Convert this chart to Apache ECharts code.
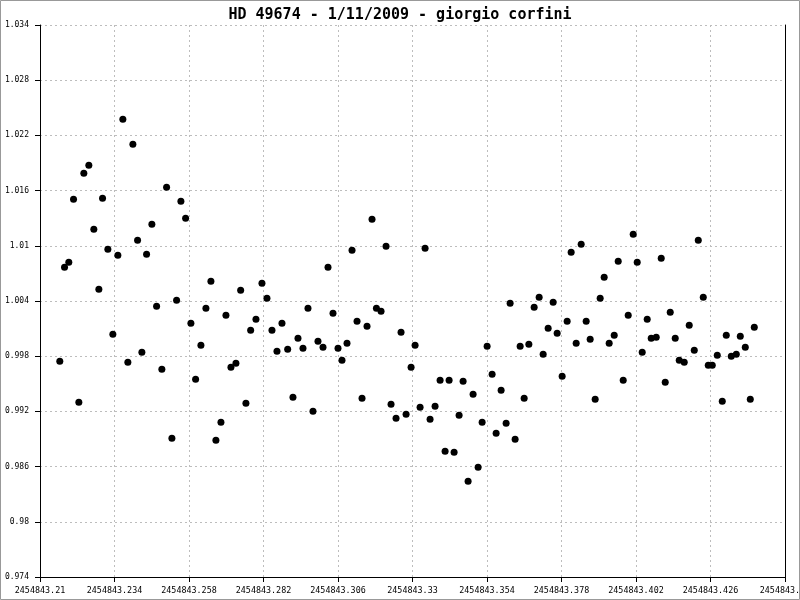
<!DOCTYPE html>
<html>
<head>
<meta charset="utf-8">
<script src="https://cdn.jsdelivr.net/npm/echarts@6/dist/echarts.min.js"></script>
<style>html,body{margin:0;padding:0;background:#fff}#c{width:800px;height:600px}</style>
</head>
<body>
<div id="c"></div>
<script>
const TITLE = 'HD 49674 - 1/11/2009 - giorgio corfini';
const JD_BASE = 2454843.21;
const FLUX_BASE = 0.974;
const xTicks = ['2454843.21','2454843.234','2454843.258','2454843.282','2454843.306','2454843.33','2454843.354','2454843.378','2454843.402','2454843.426','2454843.45'];
const yTicks = ['0.974','0.98','0.986','0.992','0.998','1.004','1.01','1.016','1.022','1.028','1.034'];
// Julian date offsets from JD_BASE (days)
const jdOffset = [
0.00638,0.00790,0.00928,0.01080,0.01251,0.01412,0.01573,0.01734,0.01896,0.02015,
0.02186,0.02347,0.02508,0.02669,0.02830,0.02992,0.03143,0.03282,0.03433,0.03604,
0.03756,0.03926,0.04078,0.04249,0.04400,0.04539,0.04691,0.04861,0.05013,0.05184,
0.05345,0.05506,0.05667,0.05829,0.05990,0.06151,0.06312,0.06464,0.06634,0.06786,
0.06957,0.07150,0.07311,0.07473,0.07634,0.07795,0.07979,0.08149,0.08311,0.08472,
0.08633,0.08794,0.08955,0.09117,0.09278,0.09439,0.09600,0.09729,0.09890,0.10052,
0.10213,0.10374,0.10535,0.10696,0.10838,0.10987,0.11148,0.11309,0.11470,0.11631,
0.11793,0.11954,0.12083,0.12244,0.12405,0.12566,0.12727,0.12889,0.13050,0.13179,
0.13340,0.13501,0.13630,0.13791,0.13952,0.14114,0.14243,0.14404,0.14565,0.14694,
0.14855,0.15016,0.15145,0.15306,0.15468,0.15597,0.15748,0.15919,0.16080,0.16209,
0.16370,0.16531,0.16660,0.16821,0.16982,0.17111,0.17273,0.17434,0.17595,0.17724,
0.17885,0.18046,0.18175,0.18336,0.18498,0.18627,0.18788,0.18949,0.19110,0.19239,
0.19400,0.19561,0.19690,0.19852,0.20013,0.20142,0.20303,0.20464,0.20593,0.20754,
0.20915,0.21077,0.21206,0.21367,0.21528,0.21657,0.21818,0.21979,0.22108,0.22269,
0.22431,0.22560,0.22721,0.22882,0.23011
];
// relative flux
const flux = [
0.99745,1.00766,1.00821,1.01505,0.99299,1.01788,1.01875,1.01179,1.00527,1.01516,
1.00962,1.00038,1.00897,1.02375,0.99734,1.02103,1.01060,0.99842,1.00908,1.01234,
1.00342,0.99658,1.01636,0.98908,1.00408,1.01484,1.01299,1.00158,0.99549,0.99919,
1.00321,1.00614,0.98886,0.99082,1.00245,0.99679,0.99723,1.00516,0.99288,1.00082,
1.00201,1.00592,1.00429,1.00082,0.99853,1.00158,0.99875,0.99353,0.99995,0.99886,
1.00321,0.99201,0.99962,0.99897,1.00766,1.00266,0.99886,0.99756,0.99940,1.00951,
1.00179,0.99342,1.00125,1.01288,1.00321,1.00288,1.00995,0.99277,0.99125,1.00060,
0.99168,0.99679,0.99919,0.99245,1.00973,0.99114,0.99255,0.99538,0.98766,0.99538,
0.98755,0.99158,0.99527,0.98440,0.99386,0.98592,0.99082,0.99908,0.99603,0.98962,
0.99429,0.99071,1.00375,0.98897,0.99908,0.99342,0.99929,1.00332,1.00440,0.99821,
1.00103,1.00386,1.00049,0.99582,1.00179,1.00929,0.99940,1.01016,1.00179,0.99984,
0.99332,1.00429,1.00658,0.99940,1.00027,1.00832,0.99538,1.00245,1.01125,1.00821,
0.99842,1.00201,0.99995,1.00006,1.00864,0.99516,1.00277,0.99995,0.99756,0.99734,
1.00136,0.99864,1.01060,1.00440,0.99701,0.99701,0.99810,0.99310,1.00027,0.99799,
0.99821,1.00016,0.99897,0.99332,1.00114
];

const data = jdOffset.map((d, i) => [d, flux[i] - FLUX_BASE]);
const mono = 'DejaVu Sans Mono';
const grid = {show: true, lineStyle: {color: '#bdbdbd', type: [2, 3], width: 1}};
const chart = echarts.init(document.getElementById('c'), null, {renderer: 'canvas'});
chart.setOption({
  animation: false,
  backgroundColor: '#fff',
  title: {text: TITLE, left: 'center', top: 3, textStyle: {fontFamily: mono, fontSize: 15, fontWeight: 'bold', color: '#000'}},
  grid: {left: 40, right: 15, top: 25, bottom: 23, containLabel: false, outerBoundsMode: 'none'},
  graphic: [{type: 'rect', shape: {x: 0.5, y: 0.5, width: 799, height: 599}, style: {fill: 'none', stroke: '#999', lineWidth: 1}, silent: true, z: 100}],
  xAxis: {
    type: 'value', min: 0, max: 0.24, interval: 0.024,
    axisLine: {show: true, onZero: false, lineStyle: {color: '#000', width: 1}},
    axisTick: {show: true, length: 5, lineStyle: {color: '#000'}},
    axisLabel: {fontFamily: mono, fontSize: 8.4, color: '#000', margin: 10, hideOverlap: false,
      formatter: v => xTicks[Math.round(v / 0.024)], showMaxLabel: true, showMinLabel: true},
    splitLine: grid
  },
  yAxis: [{
    type: 'value', min: 0, max: 0.06, interval: 0.006,
    axisLine: {show: true, onZero: false, lineStyle: {color: '#000', width: 1}},
    axisTick: {show: true, length: 5, lineStyle: {color: '#000'}},
    axisLabel: {fontFamily: mono, fontSize: 8, color: '#000', margin: 11,
      formatter: v => yTicks[Math.round(v / 0.006)]},
    splitLine: grid
  }, {
    type: 'value', min: 0, max: 0.06, interval: 0.006, position: 'right',
    axisLine: {show: true, onZero: false, lineStyle: {color: '#000', width: 1}},
    axisTick: {show: false}, axisLabel: {show: false}, splitLine: {show: false}
  }],
  series: [{
    type: 'scatter', data: data, symbol: 'circle', symbolSize: 7,
    itemStyle: {color: '#000', opacity: 1}, yAxisIndex: 0
  }]
});
</script>
</body>
</html>
